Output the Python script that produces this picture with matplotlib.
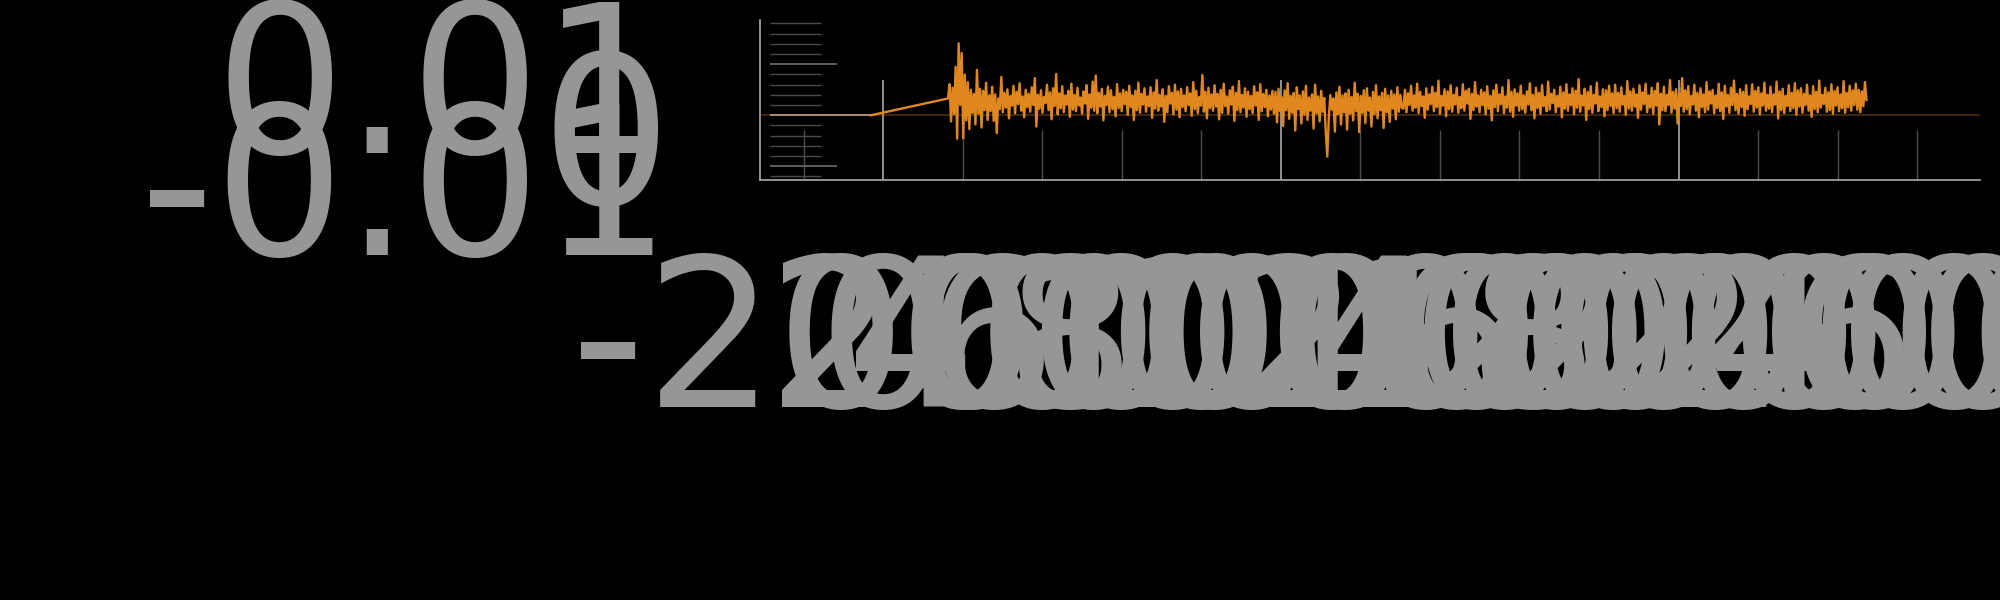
import numpy as np
import matplotlib
matplotlib.use("Agg")
import matplotlib.pyplot as plt
from matplotlib.ticker import MultipleLocator, StrMethodFormatter, FixedLocator
from matplotlib.transforms import ScaledTranslation

plt.rcParams['font.family'] = ['DejaVu Sans']
plt.rcParams['axes.unicode_minus'] = False

# ---------------- data (values in thousandths, x in samples) ----------------
lead_x = [-31]
lead_mv = [0.0]

noise_start = 163
sample_step = 3.83

burst_mv = [3.3, 6.1, -1.2, 5.4, 0.2, 9.5, -4.6, 14.1, 2.0, 12.2, -4.5, 8.0, -1.0, 6.5, -2.7, 5.0, 0.5, 4.2]
early_mv = [-1.8, 8.9, 0.3, 5.2, -2.4, 4.8, 1.0, 6.4, -0.9, 3.9, 0.8, 5.6, -1.1, 4.1, -3.5, 3.3]
band1_mv = [
    1.2, 7.5, 0.6, 4.4, 1.5, 5.1, -0.6, 3.8, 1.9, 5.8, 0.4, 4.6, 2.2, 6.3, 0.9, 3.7, -0.4, 5.0, 1.6, 4.2,
    0.7, 5.5, 2.0, 7.3, -2.2, 4.0, 1.3, 4.9, 0.5, 3.6, 2.4, 6.0, 1.0, 4.5, -0.8, 5.3, 1.8, 8.1, 0.2, 4.3,
    1.4, 5.7, 0.6, 3.9, 2.1, 4.8, -0.3, 6.2, 1.1, 4.0, 0.8, 5.4, 1.9, 3.5, 0.3, 4.7, 2.3, 5.9, -0.7, 4.1,
    1.5, 6.6, 0.9, 7.8, 0.4, 4.4, 1.7, 5.2, -1.0, 3.8, 2.0, 5.6, 0.6, 4.9, 1.2, 3.6, -0.2, 6.1, 1.4, 4.3,
    0.8, 5.0, 2.2, 4.6, 0.1, 5.8, 1.6, 3.9, -0.9, 4.8, 1.0, 6.4, 0.5, 4.2, 2.1, 5.3, 0.7, 3.7, 1.8, 5.5,
    -0.5, 4.5, 1.3, 6.9, 0.9, 4.0, 1.7, 5.1, -1.3, 3.8, 0.6, 5.7, 2.3, 4.4, 0.2, 6.0, 1.1, 4.7, -0.4, 5.2,
    1.6, 3.9, 0.8, 5.5, 2.0, 4.3, -0.1, 6.5, 1.2, 4.8, 0.4, 3.6, 1.9, 7.9, 0.7, 4.6, -0.6, 5.4, 1.4, 4.1,
    0.9, 5.9, 1.7, 4.2, -0.8, 5.0, 0.5, 6.2, 1.8, 3.7, 0.3, 4.9, 2.1, 5.6, -1.1, 4.4, 1.0, 6.7, 0.6, 4.0,
    1.5, 5.3, -0.3, 4.6, 1.2, 3.8, 0.4, 5.7, 1.9, 4.5, -0.9, 6.1, 0.8, 4.2, 1.6, 5.0, -0.2, 3.9, 1.1, 4.8,
]
dip_mv = [
    0.3, 4.6, -1.4, 5.2, 0.8, 3.6, -2.1, 4.9, 1.0, 6.3, -0.7, 3.8, 0.5, 4.4, -3.0, 5.5, 1.2, 3.9, -1.6, 4.7,
    0.1, 5.8, -0.9, 3.5, 0.9, 4.1, -2.6, 6.0, 0.4, 3.7, -1.2, 4.8, 0.7, 3.4, -3.2, -8.1, -0.5, 4.0, 1.1, 3.3,
    -3.2, 4.5, 0.2, 5.6, -1.8, 3.9, 0.6, 4.3, -2.8, 5.0, 0.3, 3.6, -1.0, 6.4, 0.8, 4.2, -3.3, 3.8, 0.5, 4.9,
    -1.5, 5.3, 0.9, 3.5, -2.2, 4.6, 0.2, 5.9, -0.6, 3.7, 1.0, 4.4, -2.5, 5.2, 0.6, 3.9, -1.3, 4.8, 1.3, 4.1,
    -0.8, 5.5, 0.7, 4.0, 1.5,
]
band2_mv = [
    1.3, 5.0, 0.6, 4.3, 2.0, 5.8, 0.9, 3.9, 1.5, 6.2, 0.4, 4.6, 1.8, 3.7, -0.5, 5.3, 1.1, 4.1, 2.2, 5.6,
    0.8, 4.4, 1.6, 6.8, 0.3, 3.8, 1.9, 5.1, -0.2, 4.7, 1.2, 5.9, 0.7, 4.0, 2.1, 5.4, 0.5, 3.6, 1.4, 6.1,
    0.9, 4.8, 2.3, 5.2, -0.7, 4.2, 1.0, 6.5, 1.7, 3.9, 0.6, 5.0, 2.0, 4.5, 0.2, 5.7, 1.3, 3.8, -1.0, 4.9,
    1.6, 6.0, 0.8, 4.1, 2.2, 5.5, 0.4, 3.7, 1.5, 6.9, 0.7, 4.6, -0.3, 5.1, 1.9, 4.3, 0.9, 5.8, 1.2, 3.9,
    0.5, 4.7, 2.1, 6.3, 1.0, 4.0, -0.6, 5.4, 1.4, 4.4, 0.3, 5.9, 1.8, 3.6, 0.8, 6.6, 1.1, 4.2, 2.4, 5.0,
    0.6, 3.8, 1.7, 5.6, -0.4, 4.5, 1.3, 6.1, 0.9, 4.1, 2.0, 5.3, 0.2, 4.8, 1.5, 7.1, 0.7, 3.9, 1.9, 5.2,
    -0.9, 4.6, 1.2, 5.7, 0.5, 4.0, 2.3, 6.4, 0.8, 3.7, 1.6, 5.1, -0.2, 4.9, 1.0, 5.8, 1.8, 4.3, 0.4, 6.0,
    1.4, 4.4, 0.7, 5.5, 2.1, 3.8, 0.1, 6.7, 1.3, 4.7, 0.9, 5.2, 1.7, 4.1, -0.5, 5.9, 1.1, 4.5, 2.2, 6.2,
    0.6, 3.9, 1.5, 5.4, 0.3, 4.8, 1.9, 6.3, -1.8, 4.2, 1.0, 5.6, 0.8, 4.0, 2.0, 6.9, 0.5, 4.6, 1.3, 5.1,
    -1.6, 4.3, 1.8, 7.3, 0.7, 4.9, 1.2, 5.7, 0.2, 3.8, 2.1, 6.0, 0.9, 4.4, -0.4, 5.3, 1.6, 4.1, 0.6, 6.5,
    1.1, 4.7, 2.3, 5.0, 0.4, 3.9, 1.4, 6.2, 0.8, 4.5, -0.7, 5.8, 1.7, 4.0, 0.5, 5.4, 2.0, 6.8, 1.0, 4.2,
    0.3, 5.1, 1.6, 4.6, -0.1, 5.9, 1.2, 3.7, 2.2, 6.1, 0.7, 4.8, 1.5, 5.5, 0.2, 4.3, 1.9, 6.4, 0.9, 4.0,
    1.3, 5.6, 0.6, 4.1, 2.1, 6.6, -0.6, 4.7, 1.0, 5.2, 0.4, 3.8, 1.8, 5.9, 0.8, 4.4, 1.4, 6.3, 0.1, 4.9,
    1.7, 5.3, 0.5, 4.2, 2.0, 6.0, 0.9, 3.9, -0.3, 5.7, 1.2, 4.6, 0.6, 6.8, 1.5, 4.0, 2.2, 5.4, 0.7, 4.5,
    1.0, 6.1, 0.3, 4.8, 1.9, 5.5, 0.8, 4.1, 1.4, 6.7, 0.5, 4.4, 1.6, 5.8, 0.9, 4.9, 2.0, 6.2, 1.1, 5.0,
    0.6, 4.7, 1.8, 6.5, 3.0,
]

x_major_step = 1000
x_minor_step = 200
y_major_ticks = [-0.01, 0.0, 0.01]
y_minor_step = 0.002
x_limits = (-309, 2758)
y_limits = (-0.012745, 0.018686)

# ---------------- assemble series ----------------
noise_mv = burst_mv + early_mv + band1_mv + dip_mv + band2_mv
noise_x = noise_start + sample_step * np.arange(len(noise_mv))
x = np.concatenate([np.array(lead_x, float), noise_x])
y = np.array(lead_mv + noise_mv) * 1e-3

ORANGE = '#e0881e'
LABEL = '#969696'
FS = 148

fig = plt.figure(figsize=(20, 6), dpi=100, facecolor='black')
ax = fig.add_axes([0.38015, 0.6995, 0.60985, 0.2672])
ax.set_facecolor('black')

ax.plot(x, y, color=ORANGE, lw=1.7, zorder=2)
ax.axhline(0, color=ORANGE, alpha=0.28, lw=1.5, zorder=3)

ax.set_xlim(*x_limits)
ax.set_ylim(*y_limits)

ax.xaxis.set_major_locator(MultipleLocator(x_major_step))
ax.xaxis.set_minor_locator(MultipleLocator(x_minor_step))
ax.xaxis.set_major_formatter(StrMethodFormatter('{x:g}'))
ax.xaxis.set_minor_formatter(StrMethodFormatter('{x:g}'))
ax.yaxis.set_major_locator(FixedLocator(y_major_ticks))
ax.yaxis.set_minor_locator(MultipleLocator(y_minor_step))
ax.yaxis.set_major_formatter(StrMethodFormatter('{x:g}'))

ax.tick_params(axis='x', which='major', direction='in', length=72, width=1.2,
               color='#aaaaaa', labelsize=FS, labelcolor=LABEL, pad=50.5)
ax.tick_params(axis='x', which='minor', direction='in', length=36, width=1.0,
               color='#4d4d4d', labelsize=FS, labelcolor=LABEL, pad=50.5)
ax.tick_params(axis='y', which='major', direction='in', length=48, width=1.2,
               color='#6e6e6e', labelsize=FS, labelcolor=LABEL, pad=64)
ax.tick_params(axis='y', which='minor', direction='in', length=36.5, width=1.0,
               color='#4a4a4a')

for side in ('top', 'right'):
    ax.spines[side].set_visible(False)
for side in ('left', 'bottom'):
    ax.spines[side].set_color('#aaaaaa')
    ax.spines[side].set_linewidth(1.2)

fig.canvas.draw()
tick_shift = ScaledTranslation(0.1, 0, fig.dpi_scale_trans)
label_shift = ScaledTranslation(0, -0.1, fig.dpi_scale_trans)
for t in ax.yaxis.get_major_ticks() + ax.yaxis.get_minor_ticks():
    t.tick1line.set_transform(t.tick1line.get_transform() + tick_shift)
for t in ax.yaxis.get_major_ticks():
    t.label1.set_transform(t.label1.get_transform() + label_shift)
    if abs(t.get_loc()) < 1e-12:
        t.tick1line.set_markersize(72.7)
        t.tick1line.set_markeredgecolor('#aaaaaa')

fig.savefig('out.png', dpi=100, facecolor='black')
